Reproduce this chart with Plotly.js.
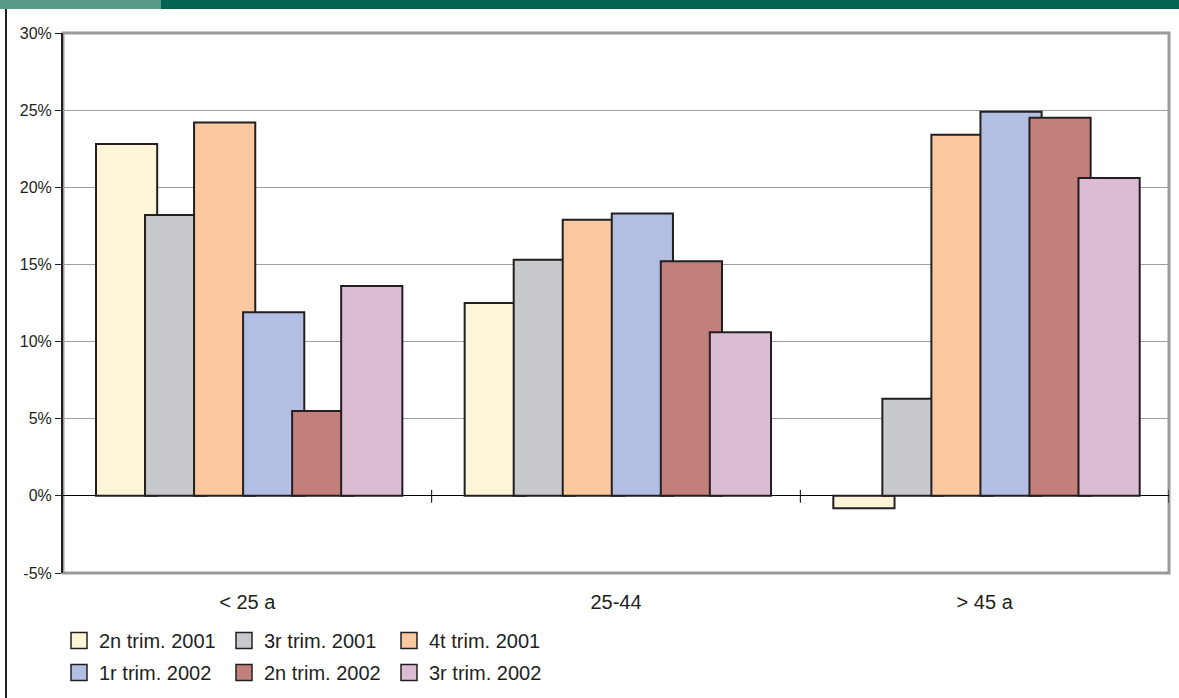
<!DOCTYPE html>
<html>
<head>
<meta charset="utf-8">
<script src="https://cdn.plot.ly/plotly-3.0.1.min.js"></script>
<style>
  html, body { margin: 0; padding: 0; background: #fff; }
  #wrap { position: relative; width: 1179px; height: 698px; overflow: hidden; }
  #strip1 { position: absolute; left: 0; top: 0; width: 161px; height: 9px; background: #5a9a8b; }
  #strip2 { position: absolute; left: 161px; top: 0; width: 1018px; height: 9px; background: #006450; }
  #vline { position: absolute; left: 5px; top: 9px; width: 2px; height: 689px; background: #222; }
  #chart { position: absolute; left: 0; top: 0; width: 1179px; height: 698px; }
</style>
</head>
<body>
<div id="wrap">
  <div id="chart"></div>
  <div id="strip1"></div>
  <div id="strip2"></div>
  <div id="vline"></div>
</div>
<script>
// Data (percent)
const categories = ['< 25 a', '25-44', '> 45 a'];
const seriesNames = ['2n trim. 2001', '3r trim. 2001', '4t trim. 2001', '1r trim. 2002', '2n trim. 2002', '3r trim. 2002'];
const trim2_2001 = [22.8, 12.5, -0.8];
const trim3_2001 = [18.2, 15.3, 6.3];
const trim4_2001 = [24.2, 17.9, 23.4];
const trim1_2002 = [11.9, 18.3, 24.9];
const trim2_2002 = [5.5, 15.2, 24.5];
const trim3_2002 = [13.6, 10.6, 20.6];
const yTickVals = [-5, 0, 5, 10, 15, 20, 25, 30];
const yTickText = ['-5%', '0%', '5%', '10%', '15%', '20%', '25%', '30%'];

const seriesValues = [trim2_2001, trim3_2001, trim4_2001, trim1_2002, trim2_2002, trim3_2002];
const colors = ['#fcf5d8', '#c8c9cd', '#fbc8a0', '#b2bfe2', '#c1807a', '#dcbcd3'];

const barW = 0.166, step = 0.133;
const start = -(step * 5 + barW) / 2 + 0.005;

const barTraces = seriesValues.map((vals, i) => ({
  type: 'bar',
  name: seriesNames[i],
  x: categories,
  y: vals,
  width: barW,
  offset: start + i * step,
  marker: { color: colors[i], line: { color: '#231f20', width: 2 } },
  showlegend: false,
  hoverinfo: 'skip'
}));

// Legend-only entries (larger square swatches)
const legendTraces = seriesNames.map((name, i) => ({
  type: 'scatter', mode: 'markers', name: name,
  x: [null], y: [null],
  marker: { symbol: 'square', size: 16, color: colors[i], line: { color: '#231f20', width: 1.5 } },
  legend: i < 3 ? 'legend' : 'legend2',
  hoverinfo: 'skip'
}));

const yMin = -5, yMax = 30;
const shapes = [
  { type: 'rect', xref: 'paper', yref: 'paper', x0: 0, x1: 1, y0: 0, y1: 1,
    line: { color: '#9a9a9a', width: 3 }, layer: 'below' }
];
[0.5, 1.5, 2.5].forEach(b => {
  shapes.push({ type: 'line', xref: 'x', yref: 'y', ysizemode: 'pixel', yanchor: 0,
    x0: b, x1: b, y0: -7, y1: 6, line: { color: '#000', width: 1 } });
});

const legendCommon = {
  orientation: 'h', xref: 'container', yref: 'container', xanchor: 'left', yanchor: 'top',
  font: { family: 'Liberation Sans, Arial, sans-serif', size: 20, color: '#231f20' },
  entrywidth: 120, entrywidthmode: 'pixels', bgcolor: 'rgba(0,0,0,0)',
  itemsizing: 'trace',
  itemclick: false, itemdoubleclick: false, tracegroupgap: 0
};

const layout = {
  width: 1179, height: 698,
  margin: { l: 63, r: 10, t: 33, b: 125 },
  paper_bgcolor: '#fff', plot_bgcolor: '#fff',
  barmode: 'overlay',
  showlegend: true,
  font: { family: 'Liberation Sans, Arial, sans-serif', color: '#231f20' },
  xaxis: {
    type: 'category', categoryorder: 'array', categoryarray: categories,
    range: [-0.5, 2.5], ticks: '', showgrid: false, zeroline: false,
    showline: false, tickfont: { size: 20, color: '#231f20' }, ticklabelstandoff: 15,
    fixedrange: true
  },
  yaxis: {
    range: [yMin, yMax], tickvals: yTickVals, ticktext: yTickText,
    showgrid: true, gridcolor: '#a0a0a0', gridwidth: 1,
    zeroline: true, zerolinecolor: '#000', zerolinewidth: 1,
    showline: true, linecolor: '#231f20', linewidth: 2,
    ticks: 'outside', ticklen: 6, tickcolor: '#231f20', tickwidth: 1,
    tickfont: { size: 16, color: '#231f20' }, fixedrange: true
  },
  legend: Object.assign({}, legendCommon, { x: 59 / 1179, y: 1 - 621 / 698 }),
  legend2: Object.assign({}, legendCommon, { x: 59 / 1179, y: 1 - 653 / 698 }),
  shapes: shapes
};

Plotly.newPlot('chart', barTraces.concat(legendTraces), layout, { displayModeBar: false, staticPlot: true });
</script>
</body>
</html>
